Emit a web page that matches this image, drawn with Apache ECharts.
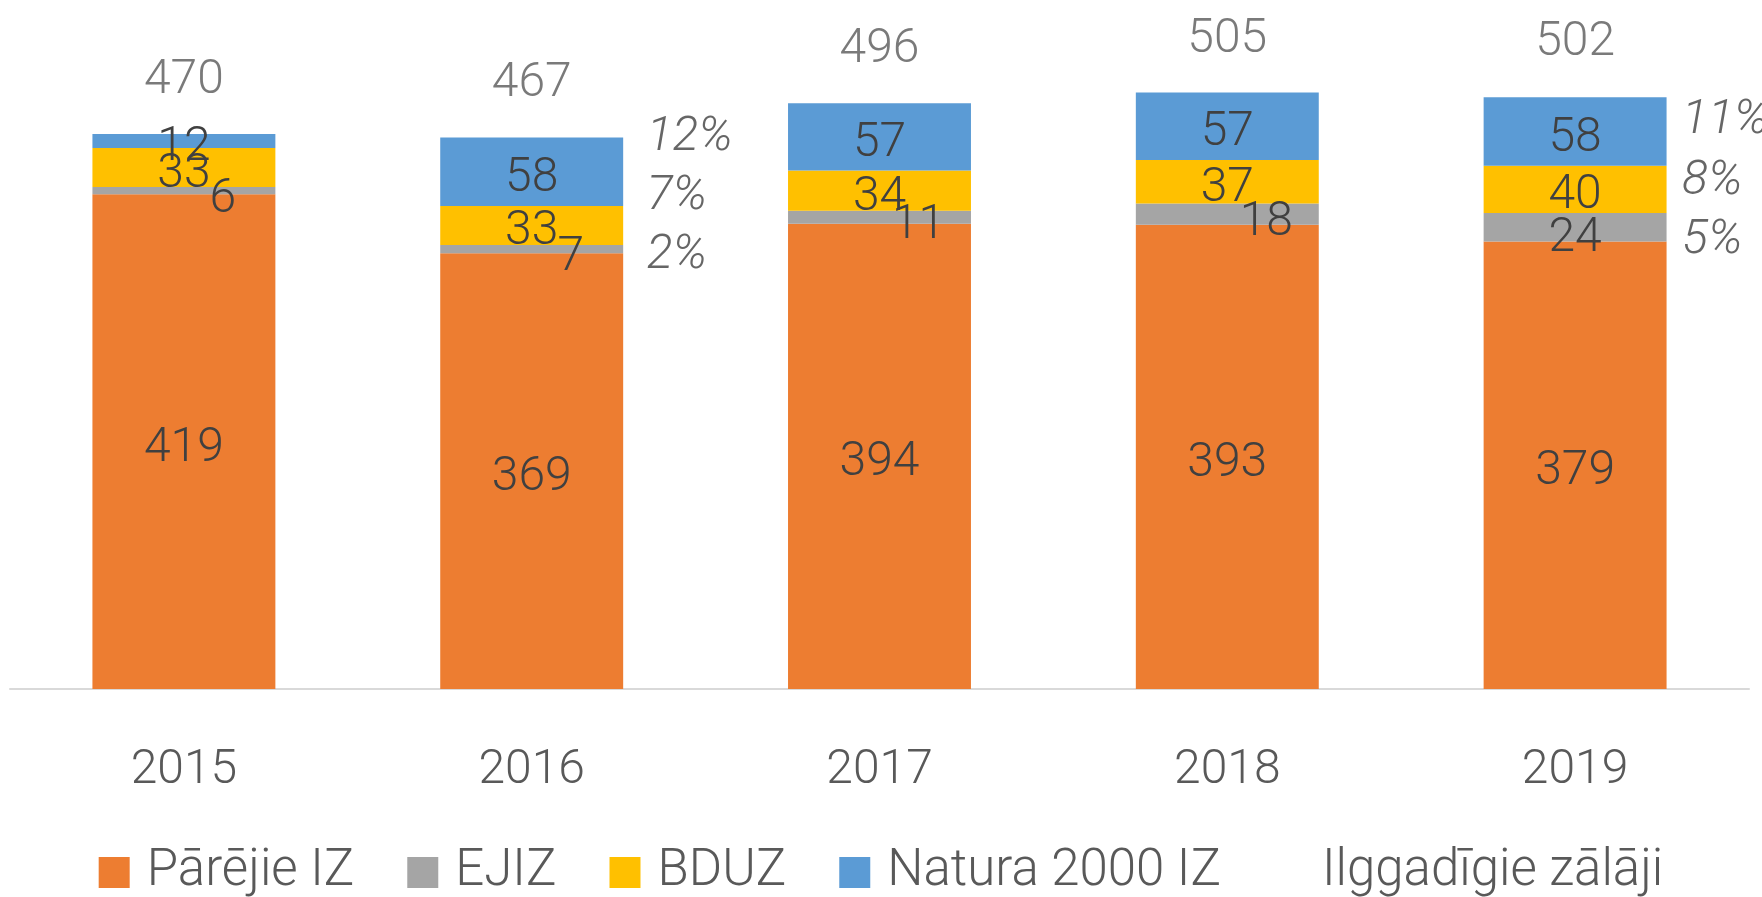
<!DOCTYPE html>
<html>
<head>
<meta charset="utf-8">
<script src="https://cdn.jsdelivr.net/npm/echarts@6/dist/echarts.min.js"></script>
<style>
html, body { margin: 0; padding: 0; background: #fff; }
#myChart { width: 1762px; height: 897px; }
</style>
</head>
<body>
<div id="myChart"></div>
<script>
// gadi un vērtības (tūkst. ha)
var years = ['2015', '2016', '2017', '2018', '2019'];
var parejieIZ = [419, 369, 394, 393, 379];
var ejiz = [6, 7, 11, 18, 24];
var bduz = [33, 33, 34, 37, 40];
var natura = [12, 58, 57, 57, 58];
var totals = [470, 467, 496, 505, 502];

// procentu uzraksti pie 2016 un 2019
var pctYears = ['2016', '2016', '2016', '2019', '2019', '2019'];
var pctText = ['12%', '7%', '2%', '11%', '8%', '5%'];
var pctLevel = [472, 422, 372, 486, 434, 384];

var FONT = 'Roboto';
var FS = 48;

function insideLabel() {
    return { show: true, position: 'inside', offset: [0, 7], color: '#404040', fontFamily: FONT, fontWeight: 300, fontSize: FS };
}

var myChart = echarts.init(document.getElementById('myChart'));

var ejizData = ejiz.map(function (v, i) {
    // Excel etiķetes nobīdītas pa labi, izņemot 2019
    return i < 4 ? { value: v, label: { offset: [39, 9] } } : { value: v, label: { offset: [0, 12] } };
});

var pctData = pctYears.map(function (y, i) {
    return { value: [y, pctLevel[i]], label: { offset: [y === '2019' ? -8 : 0, 6] } };
});

var option = {
    animation: false,
    grid: { left: 10, right: 13, top: 4, bottom: 208 },
    legend: {
        data: [
            { name: 'Pārējie IZ' },
            { name: 'EJIZ' },
            { name: 'BDUZ' },
            { name: 'Natura 2000 IZ' },
            { name: 'Ilggadīgie zālāji', icon: 'none' }
        ],
        left: 'center',
        top: 842,
        icon: 'rect',
        itemWidth: 31,
        itemHeight: 31,
        itemGap: 53,
        textStyle: { color: '#595959', fontFamily: FONT, fontWeight: 300, fontSize: 51, padding: [0, 0, 0, 12] }
    },
    xAxis: {
        type: 'category',
        data: years,
        axisLine: { lineStyle: { color: '#D9D9D9', width: 2 } },
        axisTick: { show: false },
        axisLabel: { color: '#595959', fontFamily: FONT, fontWeight: 300, fontSize: FS, margin: 58 }
    },
    yAxis: {
        type: 'value',
        min: 0,
        max: 580,
        show: false,
        splitLine: { show: false }
    },
    series: [
        {
            name: 'Pārējie IZ', type: 'bar', stack: 'iz', barWidth: '52.6%',
            itemStyle: { color: '#ED7D31' },
            label: insideLabel(),
            data: parejieIZ
        },
        {
            name: 'EJIZ', type: 'bar', stack: 'iz',
            itemStyle: { color: '#A5A5A5' },
            label: insideLabel(),
            data: ejizData
        },
        {
            name: 'BDUZ', type: 'bar', stack: 'iz',
            itemStyle: { color: '#FFC000' },
            label: insideLabel(),
            data: bduz
        },
        {
            name: 'Natura 2000 IZ', type: 'bar', stack: 'iz',
            itemStyle: { color: '#5B9BD5' },
            label: insideLabel(),
            data: natura
        },
        {
            name: 'Ilggadīgie zālāji', type: 'scatter',
            symbolSize: 0,
            itemStyle: { color: 'transparent' },
            label: {
                show: true, position: 'right', distance: 115, align: 'left', verticalAlign: 'middle',
                color: '#404040', fontFamily: FONT, fontWeight: 300, fontStyle: 'italic', fontSize: FS,
                formatter: function (p) { return pctText[p.dataIndex]; }
            },
            data: pctData
        },
        {
            name: 'kopā', type: 'scatter',
            symbolSize: 0,
            itemStyle: { color: 'transparent' },
            label: {
                show: true, position: 'inside', offset: [0, -53],
                color: '#595959', fontFamily: FONT, fontWeight: 300, fontSize: FS
            },
            data: totals
        }
    ]
};

myChart.setOption(option);
</script>
</body>
</html>
